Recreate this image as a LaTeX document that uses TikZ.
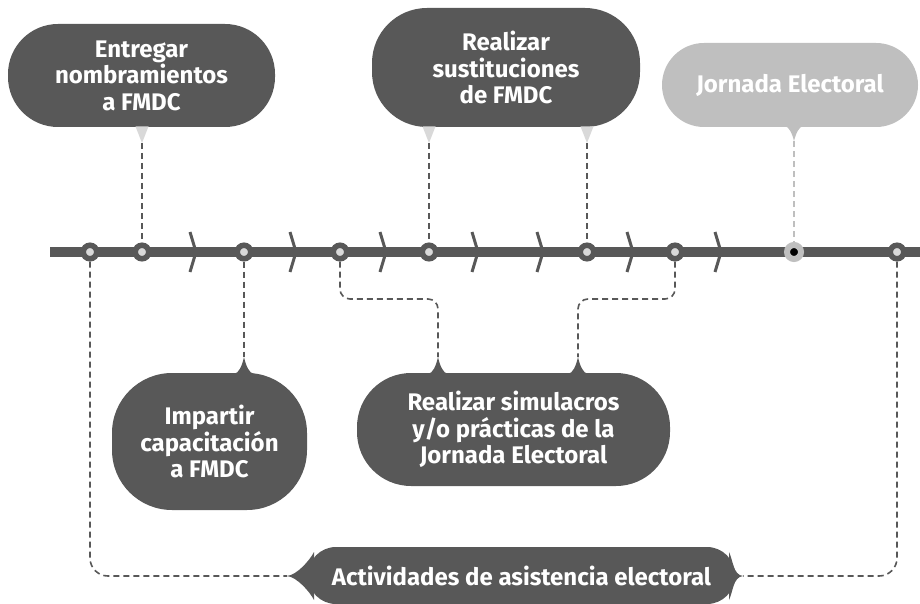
\documentclass[tikz,border=0pt]{standalone}
\usepackage{fontspec}
\setmainfont{Fira Sans}
\usetikzlibrary{positioning,calc}
\definecolor{boxgray}{HTML}{585858}
\definecolor{palegray}{HTML}{BFBFBF}
\definecolor{tipgray}{HTML}{D9D9D9}

\begin{document}
\begin{tikzpicture}[x=1pt,y=-1pt,
  caja/.style={fill=boxgray, text=white, rounded corners=50pt, align=center,
    inner sep=0pt, font=\bfseries\fontsize{24}{26.5}\selectfont},
  hito/.style={circle, draw=boxgray, line width=5.5pt, fill=tipgray,
    minimum size=13.5pt, inner sep=0pt},
  guia/.style={draw=boxgray, dash pattern=on 6pt off 4pt, line width=1.6pt},
  chevron/.style={draw=boxgray, line width=3pt}]
\useasboundingbox (0,0) rectangle (920,604);

% linea de tiempo
\draw[boxgray, line width=10pt] (50,252) -- (920,252);
\foreach \x in {193,293,383,475,540,630,718}
  \draw[chevron] (\x-3,232) -- (\x+3,252) -- (\x-3,272);

\node[hito] (A) at (90,252) {};
\node[hito] (B) at (142,252) {};
\node[hito] (C) at (244,252) {};
\node[hito] (D) at (340,252) {};
\node[hito] (E) at (429,252) {};
\node[hito] (F) at (587,252) {};
\node[hito] (G) at (675,252) {};
\node[circle, draw=palegray, line width=6pt, fill=black, minimum size=14pt,
  inner sep=0pt] (J) at (794,252) {};
\node[hito] (H) at (897,252) {};

% cajas de arriba
\node[caja, minimum width=267pt, minimum height=103pt] (EN) at (141.5,75.5)
  {Entregar\\nombramientos\\a FMDC};
\node[caja, rounded corners=55pt, minimum width=268pt, minimum height=119pt] (SU)
  at (506,67.5) {Realizar\\sustituciones\\de FMDC};
\node[caja, fill=palegray, rounded corners=42pt, minimum width=256pt,
  minimum height=84pt] (JE) at (790,85) {Jornada Electoral};

% cajas de abajo
\node[caja, rounded corners=60pt, minimum width=195pt, minimum height=137pt] (IM)
  at (209.5,441.5) {Impartir\\capacitación\\a FMDC};
\node[caja, rounded corners=54pt, minimum width=313pt, minimum height=113pt] (SI)
  at (513.5,429.5) {Realizar simulacros\\y/o prácticas de la\\Jornada Electoral};
\node[caja, rounded corners=28pt, minimum width=427pt, minimum height=57pt] (AC)
  at (521.5,575.5) {Actividades de asistencia electoral};

% puntas
\coordinate (PB) at (142,143);
\coordinate (PE) at (429,143);
\coordinate (PF) at (587,143);
\coordinate (PJ) at (794,141);
\coordinate (QC) at (244,357);
\coordinate (QS1) at (438,357);
\coordinate (QS2) at (578,357);
\coordinate (LT) at (287,576);
\coordinate (RT) at (743,576);
\coordinate (M) at (0,299);

\foreach \p in {PB,PE,PF}
  \fill[tipgray] (\p) -- ++(6.5,-16.5) -- ++(-13,0) -- cycle;
\fill[palegray] (PJ) .. controls +(2,-8) and +(-4,1) .. ++(9,-15) -- ++(-18,0)
  .. controls +(4,1) and +(-2,-8) .. (PJ) -- cycle;
\foreach \p in {QC,QS1,QS2}
  \fill[boxgray] (\p) .. controls +(2,9) and +(-5,-1) .. ++(10,17) -- ++(-20,0)
    .. controls +(5,-1) and +(-2,9) .. (\p) -- cycle;
\fill[boxgray] (LT) .. controls +(10,-1) and +(-4,8) .. (314,552) -- (314,600)
  .. controls +(-4,-8) and +(10,1) .. (LT) -- cycle;
\fill[boxgray] (RT) .. controls +(-10,-1) and +(4,8) .. (729,552) -- (729,600)
  .. controls +(4,-8) and +(-10,1) .. (RT) -- cycle;

% guias
\draw[guia] (PB) -- (B.north);
\draw[guia] (PE) -- (E.north);
\draw[guia] (PF) -- (F.north);
\draw[guia, draw=palegray] (PJ) -- (J.north);
\draw[guia] (C.south) -- (QC);
\draw[guia, rounded corners=10pt] (D.south) |- (QS1 |- M) -- (QS1);
\draw[guia, rounded corners=10pt] (G.south) |- (QS2 |- M) -- (QS2);
\draw[guia, rounded corners=18pt] (A.south) |- (LT);
\draw[guia, rounded corners=18pt] (H.south) |- (RT);
\end{tikzpicture}
\end{document}
